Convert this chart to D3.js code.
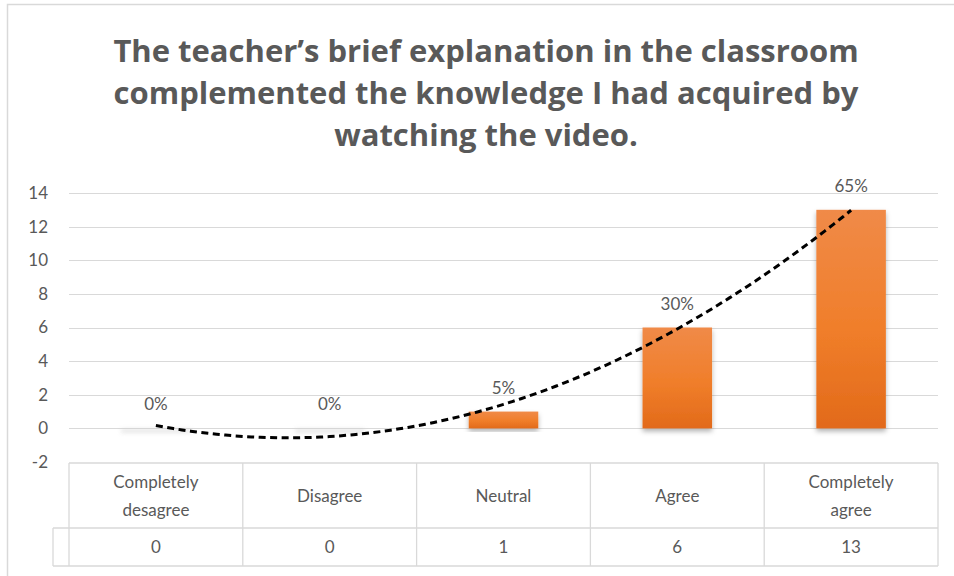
<!DOCTYPE html>
<html><head><meta charset="utf-8">
<script src="https://cdn.jsdelivr.net/npm/d3@7"></script>
<style>
body{margin:0;background:#fff;}
text{font-family:Lato,"Open Sans",sans-serif;}
</style></head>
<body>
<svg id="c" width="954" height="576"></svg>
<script>
const titleLines = ["The teacher\u2019s brief explanation in the classroom","complemented the knowledge I had acquired by","watching the video."];
const categories = ["Completely desagree","Disagree","Neutral","Agree","Completely agree"];
const categoryLines = [["Completely","desagree"],["Disagree"],["Neutral"],["Agree"],["Completely","agree"]];
const counts = [0,0,1,6,13];
const percentLabels = ["0%","0%","5%","30%","65%"];
const yTicks = [-2,0,2,4,6,8,10,12,14];

const svg = d3.select("#c");
const grey = "#595959";

// outer border
svg.append("path").attr("d","M7.5,576 V4.5 H954").attr("fill","none").attr("stroke","#d9d9d9").attr("stroke-width",1.5);

// title
svg.append("g").selectAll("text").data(titleLines).join("text")
  .attr("x",486).attr("y",(d,i)=>62+i*42)
  .attr("text-anchor","middle").attr("font-size",31).attr("font-weight","bold")
  .style("font-family","'Open Sans',sans-serif")
  .attr("fill",grey).text(d=>d);

const x = d3.scaleBand().domain(categories).range([69,938]).padding(0);
const y = d3.scaleLinear().domain([-2,14]).range([462,193]);

// gridlines
svg.append("g").selectAll("line").data(yTicks.filter(t=>t>-2)).join("line")
  .attr("x1",69).attr("x2",938).attr("y1",d=>Math.round(y(d))+0.5).attr("y2",d=>Math.round(y(d))+0.5)
  .attr("stroke","#d9d9d9").attr("stroke-width",1);

// y axis labels
const yAxis = d3.axisLeft(y).tickValues(yTicks).tickSize(0).tickPadding(0).tickFormat(d=>String(d));
const ga = svg.append("g").attr("transform","translate(48,0)").call(yAxis);
ga.select(".domain").remove();
ga.selectAll("text").attr("font-size",17).attr("fill",grey).style("font-family","Lato,sans-serif");

// defs
const defs = svg.append("defs");
const grad = defs.append("linearGradient").attr("id","bg").attr("x1",0).attr("y1",0).attr("x2",0).attr("y2",1);
grad.append("stop").attr("offset","0%").attr("stop-color","#F08A48");
grad.append("stop").attr("offset","55%").attr("stop-color","#F07E2A");
grad.append("stop").attr("offset","100%").attr("stop-color","#E26A1A");
const f = defs.append("filter").attr("id","sh").attr("x","-20%").attr("y","-20%").attr("width","140%").attr("height","140%");
f.append("feDropShadow").attr("dx",0).attr("dy",3).attr("stdDeviation",2.5).attr("flood-color","#000").attr("flood-opacity",0.3);
const fz = defs.append("filter").attr("id","shz").attr("x","-20%").attr("y","-300%").attr("width","140%").attr("height","700%");
fz.append("feGaussianBlur").attr("stdDeviation",2);

const bw = x.bandwidth()*0.4;
// zero-bar shadows
svg.append("g").selectAll("rect").data(categories.filter((c,i)=>counts[i]===0)).join("rect")
  .attr("x",d=>x(d)+x.bandwidth()/2-bw/2).attr("width",bw)
  .attr("y",y(0)+1).attr("height",3).attr("fill","#c8c8c8").attr("opacity",0.6).attr("filter","url(#shz)");

// bars
svg.append("g").selectAll("rect").data(categories.map((c,i)=>({c,v:counts[i]})).filter(d=>d.v>0)).join("rect")
  .attr("x",d=>x(d.c)+x.bandwidth()/2-bw/2).attr("width",bw)
  .attr("y",d=>y(d.v)).attr("height",d=>y(0)-y(d.v))
  .attr("fill","url(#bg)").attr("filter","url(#sh)");

// data labels
svg.append("g").selectAll("text").data(categories).join("text")
  .attr("x",d=>x(d)+x.bandwidth()/2).attr("y",(d,i)=>y(counts[i])-18)
  .attr("text-anchor","middle").attr("font-size",17).attr("fill",grey)
  .text((d,i)=>percentLabels[i]);

// polynomial (order 2) trendline, least squares
const xs = counts.map((v,i)=>i+1);
function fitQuad(X,Y){
  const n=X.length; let s=[0,0,0,0,0], t=[0,0,0];
  for(let i=0;i<n;i++){for(let k=0;k<5;k++)s[k]+=Math.pow(X[i],k);for(let k=0;k<3;k++)t[k]+=Y[i]*Math.pow(X[i],k);}
  const A=[[s[0],s[1],s[2],t[0]],[s[1],s[2],s[3],t[1]],[s[2],s[3],s[4],t[2]]];
  for(let i=0;i<3;i++){for(let j=i+1;j<3;j++){const r=A[j][i]/A[i][i];for(let k=i;k<4;k++)A[j][k]-=r*A[i][k];}}
  const c=[0,0,0];
  for(let i=2;i>=0;i--){let s2=A[i][3];for(let k=i+1;k<3;k++)s2-=A[i][k]*c[k];c[i]=s2/A[i][i];}
  return c;
}
const co = fitQuad(xs,counts);
const xi = d3.scaleLinear().domain([1,5]).range([x(categories[0])+x.bandwidth()/2, x(categories[4])+x.bandwidth()/2]);
const pts = d3.range(1,5.0001,0.05).map(t=>[xi(t), y(co[0]+co[1]*t+co[2]*t*t)]);
svg.append("path").attr("d",d3.line()(pts)).attr("fill","none")
  .attr("stroke","#000").attr("stroke-width",3).attr("stroke-dasharray","7,4.5");

// data table
const tTop=463, tMid=528, tBot=566;
const tg = svg.append("g").attr("stroke","#d9d9d9").attr("stroke-width",1.3);
tg.append("line").attr("x1",69).attr("x2",938).attr("y1",tTop).attr("y2",tTop);
tg.append("line").attr("x1",53).attr("x2",938).attr("y1",tMid).attr("y2",tMid);
tg.append("line").attr("x1",53).attr("x2",938).attr("y1",tBot).attr("y2",tBot);
tg.append("line").attr("x1",53).attr("x2",53).attr("y1",tMid).attr("y2",tBot);
tg.selectAll("line.v").data(categories.map(c=>x(c)).concat([938])).join("line").attr("class","v")
  .attr("x1",d=>d).attr("x2",d=>d).attr("y1",tTop).attr("y2",tBot);

const hg = svg.append("g");
categories.forEach((c,i)=>{
  const lines = categoryLines[i];
  const cx = x(c)+x.bandwidth()/2;
  lines.forEach((l,j)=>{
    hg.append("text").attr("x",cx).attr("y",(tTop+tMid)/2 + (j-(lines.length-1)/2)*28 + 6)
      .attr("text-anchor","middle").attr("font-size",17).attr("fill",grey).text(l);
  });
  hg.append("text").attr("x",cx).attr("y",(tMid+tBot)/2+6)
    .attr("text-anchor","middle").attr("font-size",17).attr("fill",grey).text(counts[i]);
});
</script>
</body></html>
